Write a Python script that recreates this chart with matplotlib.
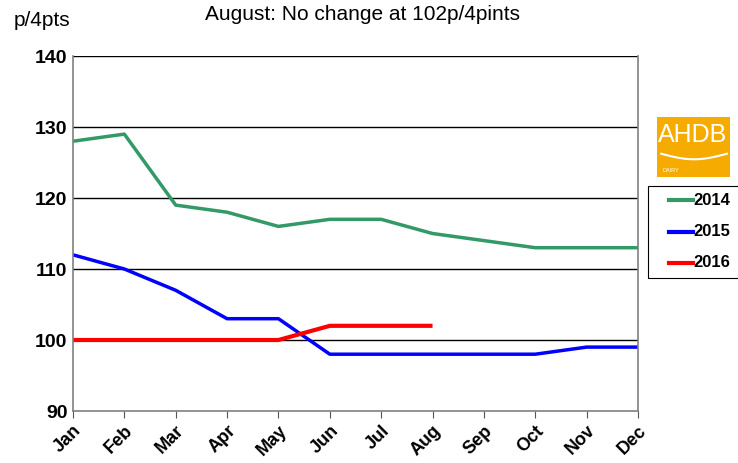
import matplotlib
matplotlib.use("Agg")
import matplotlib.pyplot as plt
import numpy as np
from matplotlib.patches import Rectangle
from matplotlib.lines import Line2D

months = ["Jan", "Feb", "Mar", "Apr", "May", "Jun", "Jul", "Aug", "Sep", "Oct", "Nov", "Dec"]
p2014 = [128, 129, 119, 118, 116, 117, 117, 115, 114, 113, 113, 113]
p2015 = [112, 110, 107, 103, 103, 98, 98, 98, 98, 98, 99, 99]
p2016 = [100, 100, 100, 100, 100, 102, 102, 102]
yticks = [90, 100, 110, 120, 130, 140]
series = [("2014", "#339966"), ("2015", "#0000ff"), ("2016", "#ff0000")]

plt.rcParams['font.family'] = ['Liberation Sans', 'DejaVu Sans']

fig = plt.figure(figsize=(7.38, 4.63), dpi=100)
ax = fig.add_axes([0.0989, 0.1123, 0.7656, 0.7667])

x = list(range(len(months)))
ax.plot(x, p2014, color="#339966", lw=2.5, solid_capstyle="butt")
ax.plot(x, p2015, color="#0000ff", lw=2.5, solid_capstyle="butt")
ax.plot(x[:len(p2016)], p2016, color="#ff0000", lw=3, solid_capstyle="butt")

ax.set_xlim(0, 11)
ax.set_ylim(90, 140)
ax.set_yticks(yticks)
ax.set_yticklabels([str(v) for v in yticks], fontsize=14, fontweight="bold")
ax.set_xticks(x)
ax.set_xticklabels(months, rotation=45, ha="right", rotation_mode="anchor",
                   fontsize=13, fontweight="bold")
ax.tick_params(axis="y", length=0, pad=4)
ax.tick_params(axis="x", length=5, color="#555555", direction="out", pad=3)
for v in yticks[1:]:
    ax.axhline(v, color="black", lw=1, zorder=0)
for side in ["left", "right", "bottom"]:
    ax.spines[side].set_color("#808080")
    ax.spines[side].set_linewidth(1.2)
ax.spines["top"].set_visible(False)

fig.text(0.019, 0.955, "p/4pts", fontsize=15, va="center")
fig.text(0.278, 0.968, "August: No change at 102p/4pints", fontsize=15, va="center")

# legend box, drawn by hand so it can run off the right edge like the original
fig.patches.append(Rectangle((0.878, 0.40), 0.2, 0.198, transform=fig.transFigure,
                             facecolor="white", edgecolor="black", lw=0.8))
for i, (label, color) in enumerate(series):
    yy = 0.568 - i * 0.068
    fig.lines.append(Line2D([0.907, 0.939], [yy, yy], transform=fig.transFigure,
                            color=color, lw=3))
    fig.text(0.940, yy, label, fontsize=12, fontweight="bold", va="center")

# AHDB logo
fig.patches.append(Rectangle((0.890, 0.618), 0.099, 0.13, transform=fig.transFigure,
                             facecolor="#f5ab00", edgecolor="none"))
fig.text(0.939, 0.708, "AHDB", color="white", fontsize=18, ha="center", va="center")
sx = np.linspace(0.896, 0.985, 30)
fig.lines.append(Line2D(sx, 0.668 - 0.012 * np.sin((sx - 0.896) / 0.089 * np.pi),
                        transform=fig.transFigure, color="white", lw=1.5))
fig.text(0.898, 0.632, "DAIRY", color="white", fontsize=4, ha="left", va="center")

fig.savefig("out.png", dpi=100)
plt.close(fig)
